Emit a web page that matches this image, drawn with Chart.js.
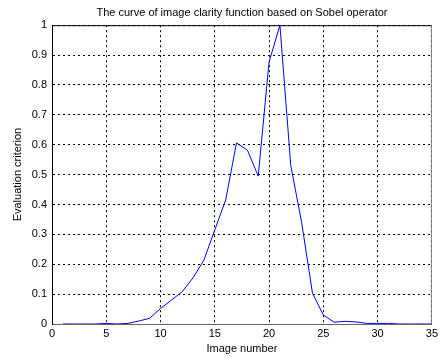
<!DOCTYPE html>
<html>
<head>
<meta charset="utf-8">
<title>Sobel clarity curve</title>
<script src="https://cdn.jsdelivr.net/npm/chart.js@4/dist/chart.umd.min.js"></script>
<style>
  html, body { margin: 0; padding: 0; background: #fff; }
  #wrap { width: 441px; height: 358px; }
</style>
</head>
<body>
<div id="wrap"><canvas id="my-chart" width="441" height="358"></canvas></div>
<script>
// data
var imageNumbers = [1, 2, 3, 4, 5, 6, 7, 8, 9, 10, 11, 12, 13, 14, 15, 16, 17, 18,
  19, 20, 21, 22, 23, 24, 25, 26, 27, 28, 29, 30, 31, 32, 33, 34, 35];
var clarityValues = [0, 0, 0, 0, 0.002, 0, 0.002, 0.01, 0.019, 0.052, 0.08, 0.108, 0.155, 0.214, 0.315, 0.415, 0.606, 0.582,
  0.495, 0.877, 1.0, 0.53, 0.34, 0.103, 0.03, 0.006, 0.009, 0.007, 0.002, 0.002, 0.002, 0, 0, 0, 0];
var xTicks = [0, 5, 10, 15, 20, 25, 30, 35];
var yTickLabels = ['0', '0.1', '0.2', '0.3', '0.4', '0.5', '0.6', '0.7', '0.8', '0.9', '1'];

var points = [];
for (var i = 0; i < imageNumbers.length; i++) {
  points.push({ x: imageNumbers[i], y: clarityValues[i] });
}

// top and right box edges like a matlab axes
var boxPlugin = {
  id: 'box',
  beforeDatasetsDraw: function (chart) {
    var a = chart.chartArea;
    var ctx = chart.ctx;
    ctx.save();
    ctx.lineWidth = 1;
    ctx.strokeStyle = '#000';
    ctx.beginPath();
    ctx.moveTo(a.left, a.top + 0.5);
    ctx.lineTo(a.right, a.top + 0.5);
    ctx.stroke();
    ctx.strokeStyle = '#808080';
    ctx.beginPath();
    ctx.moveTo(a.right - 0.5, a.top);
    ctx.lineTo(a.right - 0.5, a.bottom);
    ctx.stroke();
    ctx.restore();
  }
};

var fontSmall = { family: 'Arial, "Liberation Sans", sans-serif', size: 11, weight: 'normal' };

new Chart(document.getElementById('my-chart').getContext('2d'), {
  type: 'line',
  data: {
    datasets: [{
      data: points,
      borderColor: '#0000ff',
      borderWidth: 1,
      pointRadius: 0,
      tension: 0,
      fill: false
    }]
  },
  options: {
    responsive: false,
    animation: false,
    layout: { padding: { left: 0, right: 9, top: 0, bottom: 0 } },
    plugins: {
      legend: { display: false },
      tooltip: { enabled: false },
      title: {
        display: true,
        text: 'The curve of image clarity function based on Sobel operator',
        color: '#000',
        font: fontSmall,
        fullSize: false,
        padding: { top: 6, bottom: 6 }
      }
    },
    scales: {
      x: {
        type: 'linear',
        min: 0,
        max: 35,
        afterBuildTicks: function (scale) {
          scale.ticks = xTicks.map(function (v) { return { value: v }; });
        },
        afterFit: function (scale) { scale.height = 34; },
        ticks: { color: '#000', font: fontSmall, padding: 3, maxRotation: 0 },
        grid: { color: '#000', drawTicks: false, lineWidth: 1 },
        border: { display: true, color: '#666', dash: [2, 3] },
        title: {
          display: true,
          text: 'Image number',
          color: '#000',
          font: fontSmall,
          padding: { top: 0, bottom: 2 }
        }
      },
      y: {
        min: 0,
        max: 1,
        afterBuildTicks: function (scale) {
          scale.ticks = yTickLabels.map(function (t) { return { value: parseFloat(t) }; });
        },
        afterFit: function (scale) { scale.width = 52; },
        ticks: {
          color: '#000',
          font: fontSmall,
          padding: 5,
          callback: function (value, index) { return yTickLabels[index]; }
        },
        grid: { color: '#000', drawTicks: false, lineWidth: 1 },
        border: { display: true, color: '#000', dash: [2, 3] },
        title: {
          display: true,
          text: 'Evaluation criterion',
          color: '#000',
          font: fontSmall,
          padding: { top: 11, bottom: 0 }
        }
      }
    }
  },
  plugins: [boxPlugin]
});
</script>
</body>
</html>
